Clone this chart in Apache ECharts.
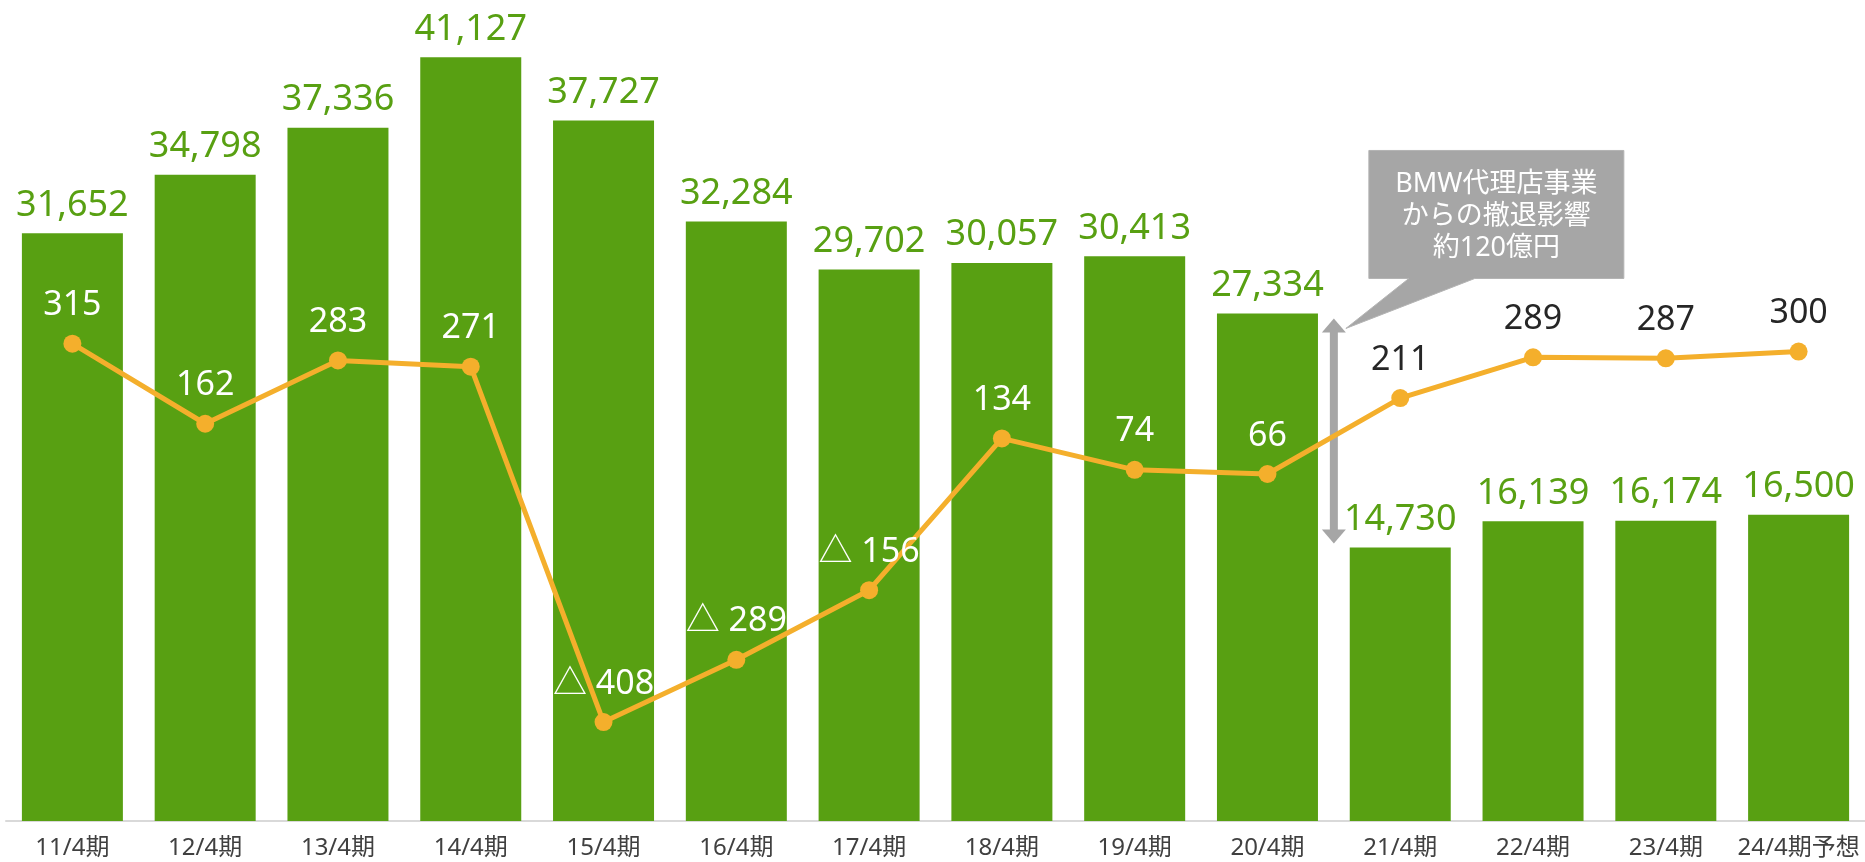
<!DOCTYPE html>
<html>
<head>
<meta charset="utf-8">
<script src="https://cdn.jsdelivr.net/npm/echarts@6/dist/echarts.min.js"></script>
<style>
  html, body { margin: 0; padding: 0; background: #fff; }
  #chart { width: 1865px; height: 862px; }
</style>
</head>
<body>
<div id="chart"></div>
<script>
const categories = ['11/4期', '12/4期', '13/4期', '14/4期', '15/4期', '16/4期', '17/4期',
  '18/4期', '19/4期', '20/4期', '21/4期', '22/4期', '23/4期', '24/4期予想']
const sales = [31652, 34798, 37336, 41127, 37727, 32284, 29702, 30057, 30413, 27334, 14730, 16139, 16174, 16500]
const profit = [315, 162, 283, 271, -408, -289, -156, 134, 74, 66, 211, 289, 287, 300]
const noteLines = ['BMW代理店事業', 'からの撤退影響', '約120億円']

const barColor = '#58a012'
const lineColor = '#f4af2c'
const grayNote = '#a6a6a6'
const font = '"Noto Sans", "Noto Sans CJK JP", sans-serif'

const chart = echarts.init(document.getElementById('chart'))

chart.setOption({
  animation: false,
  textStyle: { fontFamily: font },
  grid: { left: 6, right: 0, top: 4, bottom: 41 },
  xAxis: {
    type: 'category',
    data: categories,
    axisLine: { lineStyle: { color: '#d9d9d9', width: 2 } },
    axisTick: { show: false },
    axisLabel: { interval: 0, color: '#404040', fontSize: 24, margin: 15, fontFamily: font }
  },
  yAxis: [
    { type: 'value', min: 0, max: 44000, show: false },
    { type: 'value', min: -597, max: 964, show: false }
  ],
  series: [
    {
      type: 'bar',
      data: sales,
      barWidth: 101,
      itemStyle: { color: barColor },
      label: {
        show: true,
        position: 'top',
        distance: 10,
        color: barColor,
        fontSize: 36,
        fontFamily: font,
        formatter: p => p.value.toLocaleString('en-US')
      }
    },
    {
      type: 'line',
      yAxisIndex: 1,
      data: profit.map((v, i) => ({
        value: v,
        label: { color: i < 10 ? '#ffffff' : '#262626' }
      })),
      symbol: 'circle',
      symbolSize: 18,
      itemStyle: { color: lineColor },
      lineStyle: { color: lineColor, width: 5 },
      z: 5,
      label: {
        show: true,
        position: 'top',
        distance: 12,
        fontSize: 34,
        fontFamily: font,
        formatter: p => (p.value < 0 ? '△ ' + Math.abs(p.value) : String(p.value))
      }
    }
  ]
})

// annotation: double arrow between 20/4 and 21/4 bar tops, plus callout box
const pTop = chart.convertToPixel({ xAxisIndex: 0, yAxisIndex: 0 }, [9, sales[9]])
const pBot = chart.convertToPixel({ xAxisIndex: 0, yAxisIndex: 0 }, [10, sales[10]])
const ax = (pTop[0] + pBot[0]) / 2
const y1 = pTop[1] + 5
const y2 = pBot[1] - 4
const headW = 12, headH = 14

const tipX = ax + 12, tipY = y1 + 10
const boxL = tipX + 23, boxT = tipY - 178, boxW = 255, boxH = 128

chart.setOption({
  graphic: [
    {
      type: 'rect',
      shape: { x: ax - 4, y: y1 + headH - 1, width: 8, height: y2 - y1 - 2 * headH + 2 },
      style: { fill: grayNote }
    },
    {
      type: 'polygon',
      shape: { points: [[ax, y1], [ax - headW, y1 + headH], [ax + headW, y1 + headH]] },
      style: { fill: grayNote }
    },
    {
      type: 'polygon',
      shape: { points: [[ax, y2], [ax - headW, y2 - headH], [ax + headW, y2 - headH]] },
      style: { fill: grayNote }
    },
    {
      type: 'polygon',
      shape: {
        points: [
          [boxL, boxT], [boxL + boxW, boxT], [boxL + boxW, boxT + boxH],
          [tipX + 129, boxT + boxH], [tipX, tipY], [tipX + 63, boxT + boxH],
          [boxL, boxT + boxH]
        ]
      },
      style: { fill: grayNote, stroke: '#b4b4b4', lineWidth: 1 }
    },
    {
      type: 'text',
      x: boxL + boxW / 2,
      y: boxT + boxH / 2 + 2,
      style: {
        text: noteLines.join('\n'),
        fill: '#ffffff',
        fontSize: 27,
        lineHeight: 32,
        fontFamily: font,
        align: 'center',
        verticalAlign: 'middle'
      }
    }
  ]
})
</script>
</body>
</html>
